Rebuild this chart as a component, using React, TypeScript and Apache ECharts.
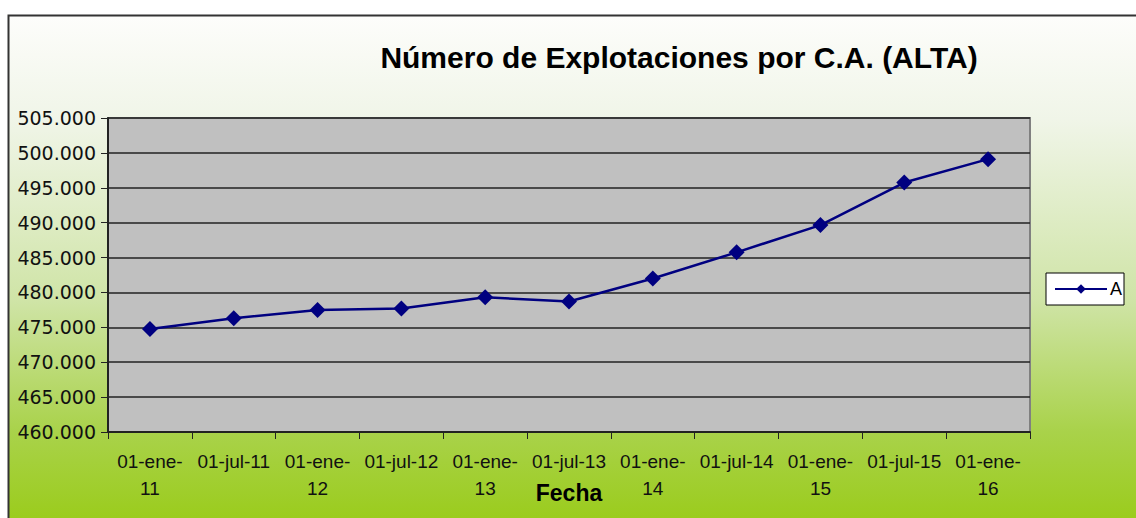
import React, { useEffect, useRef } from "react";
import * as echarts from "echarts";

const categories = [
  "01-ene-\n11", "01-jul-11", "01-ene-\n12", "01-jul-12", "01-ene-\n13", "01-jul-13",
  "01-ene-\n14", "01-jul-14", "01-ene-\n15", "01-jul-15", "01-ene-\n16",
];
const values = [474750, 476300, 477500, 477700, 479300, 478700, 482000, 485750, 489650, 495750, 499100];
const seriesName = "A";
const title = "Número de Explotaciones por C.A. (ALTA)";
const xName = "Fecha";

const fmt = (v: number) => String(v).replace(/\B(?=(\d{3})+(?!\d))/g, ".");

export default function App() {
  const ref = useRef<HTMLDivElement>(null);
  useEffect(() => {
    document.body.style.margin = "0";
    const chart = echarts.init(ref.current!, null, { renderer: "svg" });
    chart.setOption({
      animation: false,
      graphic: [
        {
          type: "rect",
          z: -10,
          silent: true,
          shape: { x: 8.5, y: 15.5, width: 1140, height: 520 },
          style: {
            stroke: "#333",
            lineWidth: 2,
            fill: {
              type: "linear", x: 0, y: 0, x2: 0, y2: 1,
              colorStops: [
                { offset: 0, color: "#fdfdfb" },
                { offset: 0.2, color: "#f0f5e8" },
                { offset: 0.55, color: "#cfe4a6" },
                { offset: 0.8, color: "#a9d24a" },
                { offset: 1, color: "#98cb14" },
              ],
            },
          },
        },
      ],
      title: {
        text: title,
        left: 674,
        top: 37,
        textAlign: "center",
        textStyle: { fontFamily: "Liberation Sans", fontSize: 30, fontWeight: "bold", color: "#000" },
      },
      legend: {
        left: 1046,
        top: 273,
        orient: "vertical",
        backgroundColor: "#fff",
        borderColor: "#000",
        borderWidth: 1,
        borderRadius: 0,
        padding: [7, 2, 7, 8],
        itemWidth: 52,
        itemHeight: 12,
        itemGap: 0,
        textStyle: { fontFamily: "Liberation Sans", fontSize: 18, color: "#000", padding: [0, 0, 0, -2] },
      },
      grid: {
        left: 108,
        top: 118,
        right: 106,
        bottom: 86,
        outerBoundsMode: "none",
        containLabel: false,
        show: true,
        backgroundColor: "#c0c0c0",
        borderColor: "#808080",
        borderWidth: 2,
      },
      xAxis: {
        type: "category",
        data: categories,
        boundaryGap: true,
        name: xName,
        nameLocation: "middle",
        nameGap: 49,
        nameMoveOverlap: false,
        nameTextStyle: { fontFamily: "Liberation Sans", fontSize: 23, fontWeight: "bold", color: "#000" },
        axisLine: { show: true, lineStyle: { color: "#222", width: 2 } },
        axisTick: { show: true, alignWithLabel: false, length: 7, lineStyle: { color: "#222", width: 1 } },
        axisLabel: {
          interval: 0,
          fontFamily: "Liberation Sans",
          fontSize: 19,
          color: "#111",
          lineHeight: 27,
          margin: 16,
        },
        splitLine: { show: false },
      },
      yAxis: {
        type: "value",
        min: 460000,
        max: 505000,
        interval: 5000,
        axisLine: { show: true, lineStyle: { color: "#222", width: 2 } },
        axisTick: { show: true, length: 7, lineStyle: { color: "#222", width: 1 } },
        axisLabel: {
          formatter: (v: number) => fmt(v),
          fontFamily: "DejaVu Sans",
          fontSize: 19,
          color: "#111",
          margin: 12,
        },
        splitLine: { show: true, lineStyle: { color: "#222", width: 1.5 } },
      },
      series: [
        {
          name: seriesName,
          type: "line",
          data: values,
          symbol: "diamond",
          symbolSize: 16,
          itemStyle: { color: "#000080" },
          lineStyle: { color: "#000080", width: 2.5 },
        },
      ],
    });
    return () => chart.dispose();
  }, []);
  return <div ref={ref} style={{ width: 1136, height: 518 }} />;
}
